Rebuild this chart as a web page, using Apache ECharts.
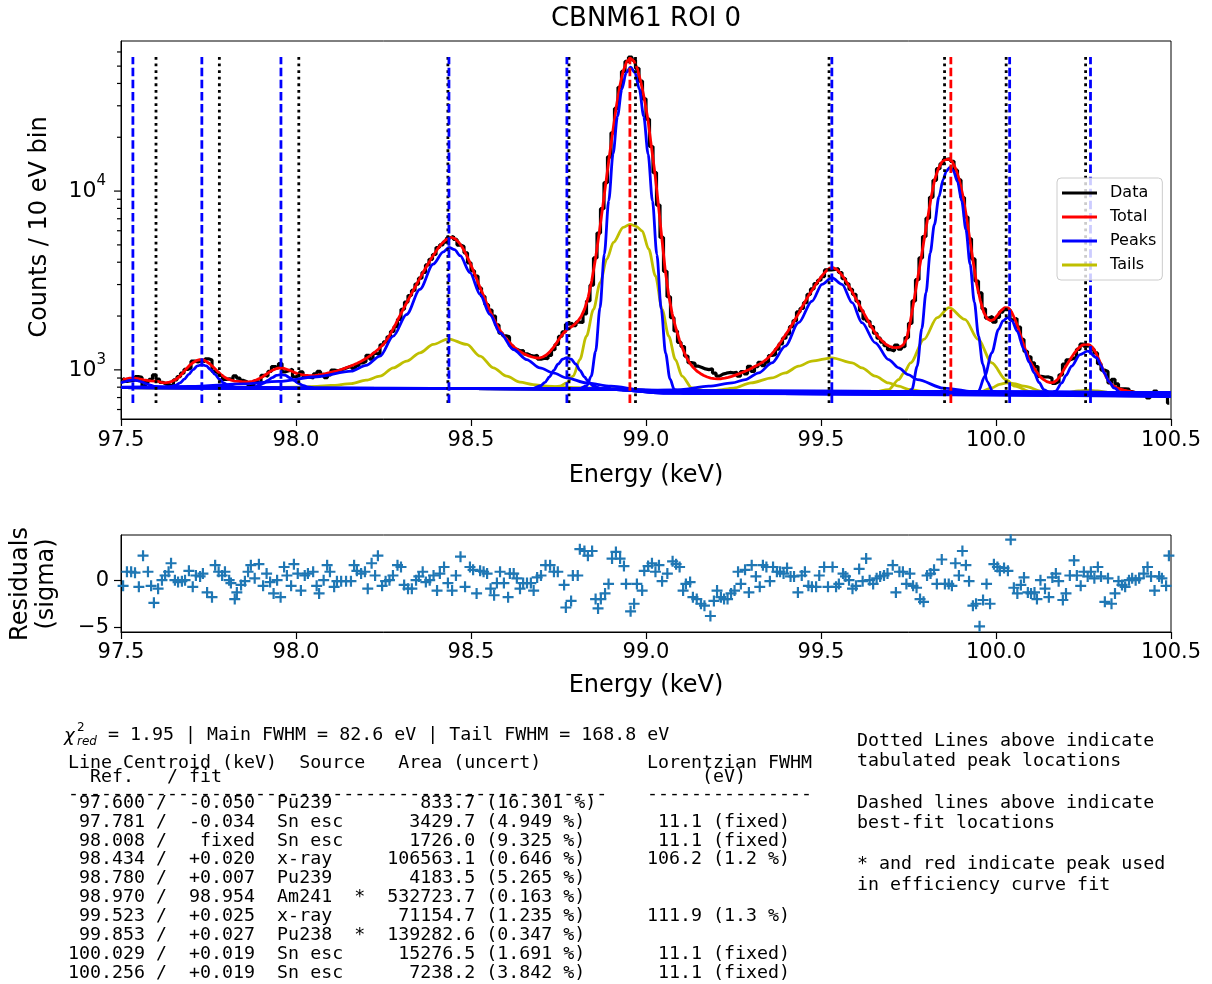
<!DOCTYPE html>
<html>
<head>
<meta charset="utf-8">
<title>CBNM61 ROI 0</title>
<script src="https://cdn.jsdelivr.net/npm/echarts@6/dist/echarts.min.js"></script>
<style>
  html, body { margin: 0; padding: 0; background: #fff; }
  #chart { width: 1212px; height: 984px; }
</style>
</head>
<body>
<div id="chart"></div>
<script>
// ---- energy axis / binning
var eMin = 97.5, eMax = 100.5, eStep = 0.5;
var binLow = 97.505, binWidth = 0.01;

// ---- measured counts per 10 eV bin
var dataCounts = [
  903,863,871,876,916,909,811,861,886,937,
  888,852,831,824,809,880,916,958,1005,1023,
  1118,1108,1126,1114,1153,1134,979,957,930,885,
  890,885,925,900,873,858,830,815,869,842,
  933,923,981,1044,1018,1084,975,989,1007,915,
  928,974,919,909,902,950,980,944,905,936,
  997,988,1001,1016,1033,1050,1015,1057,1092,1112,
  1206,1149,1237,1211,1382,1434,1530,1640,1742,1918,
  2183,2394,2606,2780,3020,3257,3506,3862,4150,4417,
  4836,5000,5178,5472,5582,5363,4990,4899,4517,3971,
  3584,3350,2866,2574,2316,2161,2000,1783,1604,1552,
  1529,1364,1304,1278,1282,1230,1208,1190,1206,1148,
  1163,1154,1203,1297,1386,1539,1630,1799,1822,1769,
  1848,1843,2055,2428,2976,4228,5824,7977,11147,15550,
  21163,28985,38049,46675,53092,56076,54078,48588,41223,32818,
  25260,17759,12698,8352,5507,3558,2564,1959,1649,1426,
  1350,1194,1097,1088,1048,1032,1012,1003,1014,959,
  923,946,958,967,962,969,922,978,950,1046,
  979,1042,1103,1057,1103,1203,1215,1307,1396,1503,
  1587,1743,1883,2109,2206,2376,2641,2837,3038,3172,
  3318,3622,3625,3644,3682,3504,3240,3028,2820,2646,
  2419,2144,1926,1870,1747,1602,1504,1431,1364,1296,
  1277,1377,1307,1347,1515,1820,2429,3195,4228,5569,
  7058,9232,11482,13346,14235,15049,15149,14672,13092,11546,
  9198,7163,5407,4171,3137,2693,2196,1948,1988,1846,
  1967,2104,2169,2173,1903,1935,1737,1479,1269,1184,
  1095,1043,920,912,913,900,841,859,938,1077,
  1136,1153,1176,1302,1392,1356,1370,1307,1243,1083,
  997,979,844,886,834,783,784,781,755,745,
  746,737,719,697,721,760,717,721,739,651
];

// ---- total fit model, same bins
var totalModel = [
  885,890,898,900,895,888,880,873,868,866,
  862,852,846,850,862,880,910,955,1005,1055,
  1095,1125,1140,1138,1110,1075,1030,985,945,912,
  890,876,866,862,858,855,856,862,875,893,
  915,945,975,1000,1018,1026,1020,1005,988,968,
  950,940,934,930,929,932,937,944,954,964,
  975,985,998,1013,1030,1047,1067,1090,1115,1142,
  1175,1212,1255,1305,1360,1430,1530,1660,1810,1980,
  2160,2350,2560,2780,3020,3280,3560,3850,4150,4450,
  4760,5050,5280,5450,5500,5400,5170,4850,4470,4060,
  3650,3270,2920,2620,2350,2120,1930,1770,1640,1540,
  1460,1390,1330,1285,1250,1220,1198,1180,1168,1165,
  1180,1210,1260,1330,1420,1520,1610,1680,1730,1790,
  1870,1990,2200,2560,3150,4100,5600,7800,11000,15500,
  21500,29500,38500,47000,53000,55300,53500,48500,41000,33000,
  25500,18000,12800,8500,5500,3600,2600,2050,1720,1480,
  1310,1180,1090,1030,985,955,930,912,900,893,
  890,892,898,907,920,935,950,966,985,1005,
  1030,1055,1080,1110,1150,1200,1265,1340,1430,1530,
  1640,1760,1900,2050,2230,2420,2610,2800,3000,3200,
  3400,3580,3710,3730,3640,3480,3280,3050,2820,2600,
  2390,2200,2030,1870,1730,1610,1520,1450,1390,1355,
  1335,1330,1340,1380,1500,1850,2400,3150,4100,5400,
  7100,9300,11600,13300,14500,15000,15100,14600,13300,11600,
  9500,7300,5400,4000,3000,2450,2100,1930,1880,1920,
  2030,2150,2230,2220,2100,1900,1680,1460,1280,1140,
  1050,980,920,885,860,848,850,880,935,1010,
  1090,1170,1250,1320,1370,1390,1385,1340,1250,1130,
  1010,910,850,815,795,780,770,762,755,750,
  746,742,738,735,732,730,728,726,723,721
];

// ---- individual peak components (energy, counts)
var peak97534 = [[97.5,845],[97.509,856],[97.5215,870],[97.534,875],[97.5465,870],[97.559,856],[97.5715,838],[97.584,822],[97.5965,809],[97.609,802],[97.634,796],[98.0,791],[98.5,786],[98.9,779],[99.05,762],[100.5,745]];
var peak97731 = [[97.5,795],[97.631,796],[97.656,818],[97.6685,845],[97.681,887],[97.6935,944],[97.706,1004],[97.7185,1052],[97.731,1070],[97.7435,1052],[97.756,1004],[97.7685,944],[97.781,887],[97.7935,845],[97.806,818],[97.831,798],[98.0,791],[98.5,786],[98.9,779],[99.05,762],[100.5,745]];
var peak97957 = [[97.5,795],[97.857,793],[97.882,804],[97.8945,818],[97.907,841],[97.9195,872],[97.932,905],[97.9445,931],[97.957,941],[97.9695,931],[97.982,905],[97.9945,872],[98.007,841],[98.0195,818],[98.032,804],[98.057,792],[98.5,786],[98.9,779],[99.05,762],[100.5,745]];
var peak98437 = [[97.5,800],[97.7,808],[97.85,835],[97.95,862],[98.06,915],[98.158,983],[98.2,1060],[98.24,1194],[98.278,1545],[98.316,2040],[98.354,2820],[98.392,3900],[98.421,4570],[98.437,4840],[98.453,4700],[98.469,4350],[98.497,3500],[98.526,2640],[98.554,2040],[98.583,1610],[98.621,1300],[98.659,1142],[98.697,1026],[98.735,962],[98.773,902],[98.83,845],[98.9,810],[98.99,772],[99.2,762],[99.6,755],[100.5,740]];
var peak98774 = [[97.5,795],[98.5,786],[98.674,785],[98.699,815],[98.7115,852],[98.724,912],[98.7365,993],[98.749,1078],[98.7615,1146],[98.774,1172],[98.7865,1146],[98.799,1078],[98.8115,993],[98.824,912],[98.8365,852],[98.849,815],[98.874,785],[98.95,778],[99.05,762],[100.5,745]];
var peak98954 = [[97.5,795],[98.0,791],[98.5,786],[98.806,778],[98.831,815],[98.8435,923],[98.856,1268],[98.8685,2218],[98.881,4448],[98.8935,8828],[98.906,16158],[98.9185,26188],[98.931,37158],[98.9435,45928],[98.956,49278],[98.9685,45900],[98.981,37130],[98.9935,26160],[99.006,16130],[99.0185,8800],[99.031,4420],[99.0435,2190],[99.056,1240],[99.0685,890],[99.081,775],[99.106,740],[99.5,733],[100.0,722],[100.5,708]];
var peak99531 = [[97.5,795],[98.5,786],[98.9,779],[99.0,765],[99.1,775],[99.179,810],[99.246,845],[99.284,882],[99.322,962],[99.36,1095],[99.398,1358],[99.436,1835],[99.474,2420],[99.503,3010],[99.531,3280],[99.56,3010],[99.589,2375],[99.617,1835],[99.655,1417],[99.693,1142],[99.722,1026],[99.749,941],[99.775,882],[99.85,790],[99.95,750],[100.2,728],[100.5,715]];
var peak99871 = [[97.5,795],[98.5,786],[98.9,779],[99.05,742],[99.5,735],[99.72,731],[99.745,737],[99.76,780],[99.775,1050],[99.788,1700],[99.8,2700],[99.812,4500],[99.824,6500],[99.837,9300],[99.849,11600],[99.858,12900],[99.868,13580],[99.878,13000],[99.89,11300],[99.902,8800],[99.914,6100],[99.926,3900],[99.938,2400],[99.95,1550],[99.962,1080],[99.975,860],[99.99,760],[100.02,728],[100.5,712]];
var peak100039 = [[97.5,795],[98.5,786],[98.9,779],[99.05,742],[99.5,734],[99.93,727],[99.95,760],[99.968,922],[99.988,1246],[100.007,1683],[100.02,1880],[100.033,1960],[100.046,1880],[100.06,1650],[100.08,1300],[100.095,1100],[100.109,962],[100.123,850],[100.137,775],[100.16,732],[100.5,712]];
var peak100270 = [[97.5,795],[98.5,786],[98.9,779],[99.05,742],[99.5,734],[100.0,724],[100.15,720],[100.17,760],[100.188,845],[100.2,930],[100.216,1049],[100.24,1218],[100.262,1273],[100.288,1168],[100.3,1060],[100.309,962],[100.323,860],[100.337,792],[100.36,735],[100.5,712]];

// ---- tail components
var tail98437 = [[97.5,795],[97.9,797],[98.0,800],[98.06,808],[98.1,818],[98.158,838],[98.2,875],[98.24,922],[98.278,1026],[98.316,1119],[98.354,1246],[98.392,1387],[98.435,1492],[98.488,1387],[98.526,1194],[98.564,1026],[98.602,922],[98.64,853],[98.678,827],[98.716,810],[98.8,795],[98.9,785],[99.05,760],[100.5,725]];
var tail98954 = [[97.5,795],[98.5,786],[98.72,784],[98.754,810],[98.773,845],[98.792,922],[98.811,1142],[98.83,1545],[98.85,2180],[98.869,3075],[98.888,4160],[98.907,5160],[98.935,6260],[98.954,6520],[98.972,6350],[98.989,5990],[99.008,4730],[99.027,3350],[99.046,2180],[99.065,1545],[99.084,1142],[99.103,922],[99.131,792],[99.17,765],[99.5,750],[100.5,725]];
var tail99531 = [[97.5,795],[98.5,786],[98.9,779],[99.05,762],[99.2,768],[99.25,790],[99.3,845],[99.36,902],[99.398,962],[99.436,1049],[99.474,1119],[99.531,1168],[99.589,1095],[99.617,1026],[99.655,922],[99.693,845],[99.722,810],[99.75,778],[99.8,752],[100.0,735],[100.5,722]];
var tail99871 = [[97.5,795],[98.5,786],[98.9,779],[99.05,755],[99.6,742],[99.65,750],[99.693,775],[99.722,882],[99.737,962],[99.756,1095],[99.794,1479],[99.832,1960],[99.866,2230],[99.911,1915],[99.949,1479],[99.988,1095],[100.028,882],[100.054,810],[100.1,752],[100.15,738],[100.5,722]];
var tail100039 = [[97.5,795],[98.5,786],[98.9,779],[99.05,750],[99.9,733],[99.95,745],[99.988,792],[100.01,830],[100.03,845],[100.05,838],[100.08,810],[100.137,755],[100.2,737],[100.5,720]];
var tail100270 = [[97.5,795],[98.5,786],[98.9,779],[99.05,750],[100.0,727],[100.15,727],[100.2,745],[100.235,763],[100.262,769],[100.29,763],[100.32,748],[100.38,730],[100.5,718]];

// ---- residuals (model - data) / sigma
var residuals = [
  [97.506,-0.6],[97.517,0.9],[97.529,0.9],[97.540,0.8],[97.551,-0.7],[97.563,2.6],[97.577,0.9],[97.586,-0.6],[97.594,-2.4],[97.606,-0.9],
  [97.617,0.0],[97.626,0.5],[97.636,0.9],[97.643,1.8],[97.654,0.0],[97.663,-0.2],[97.674,-0.1],[97.683,0.0],[97.694,1.0],[97.705,-0.7],
  [97.714,0.5],[97.726,0.4],[97.734,0.7],[97.746,-1.3],[97.760,-1.8],[97.769,1.6],[97.779,0.9],[97.789,0.5],[97.797,0.9],[97.809,0.0],
  [97.814,-0.3],[97.825,-2.0],[97.831,-1.3],[97.843,-0.5],[97.854,-0.1],[97.863,0.9],[97.871,1.6],[97.882,0.2],[97.894,1.7],[97.906,-0.6],
  [97.916,0.7],[97.926,-0.2],[97.936,-1.4],[97.946,0.0],[97.956,-1.8],[97.966,1.4],[97.974,0.5],[97.986,-0.6],[97.994,1.7],[98.005,0.7],
  [98.014,-1.1],[98.025,0.5],[98.034,0.7],[98.049,0.9],[98.059,-0.6],[98.066,-1.4],[98.079,0.0],[98.089,1.6],[98.097,0.9],[98.109,-0.7],
  [98.117,-0.1],[98.129,-0.1],[98.143,-0.1],[98.157,-0.1],[98.166,1.6],[98.174,1.0],[98.186,0.7],[98.197,0.9],[98.205,-0.9],[98.216,1.8],
  [98.226,0.5],[98.234,2.6],[98.246,-0.6],[98.256,-0.1],[98.267,0.0],[98.277,0.5],[98.290,1.6],[98.300,1.4],[98.309,-0.5],[98.320,-0.9],
  [98.331,-0.9],[98.343,0.0],[98.351,0.4],[98.362,0.9],[98.371,-0.2],[98.382,0.0],[98.393,0.5],[98.403,-1.1],[98.411,0.7],[98.423,1.4],
  [98.434,-0.3],[98.446,-1.1],[98.457,0.5],[98.470,2.5],[98.483,-0.7],[98.497,1.4],[98.506,1.1],[98.516,-1.4],[98.526,1.0],[98.536,0.9],
  [98.546,0.7],[98.556,-0.9],[98.566,-1.6],[98.574,-0.3],[98.583,0.9],[98.594,-0.3],[98.606,-1.8],[98.611,0.7],[98.622,0.7],[98.631,0.2],
  [98.640,-0.9],[98.649,-0.3],[98.660,-0.3],[98.671,-0.3],[98.679,-1.1],[98.689,0.3],[98.700,0.5],[98.713,1.6],[98.726,1.6],[98.737,0.9],
  [98.748,0.9],[98.766,-0.5],[98.771,-2.9],[98.786,-2.2],[98.791,0.5],[98.805,0.5],[98.811,3.3],[98.824,3.1],[98.834,2.6],[98.846,3.1],
  [98.856,-2.0],[98.863,-3.0],[98.871,-2.0],[98.883,-1.4],[98.893,-0.4],[98.903,2.3],[98.914,3.0],[98.926,2.3],[98.937,1.5],[98.943,-0.4],
  [98.956,-3.3],[98.966,-2.5],[98.974,-0.4],[98.989,-1.1],[98.995,1.0],[99.006,1.5],[99.017,1.8],[99.027,0.9],[99.037,1.6],[99.046,-0.1],
  [99.061,0.7],[99.076,2.0],[99.086,1.7],[99.096,1.4],[99.106,-1.1],[99.114,-0.4],[99.126,-0.2],[99.134,-1.8],[99.145,-2.0],[99.157,-2.5],
  [99.167,-2.7],[99.184,-3.8],[99.194,-2.2],[99.203,-1.1],[99.214,-1.8],[99.223,-2.0],[99.233,-2.0],[99.243,-1.4],[99.253,-1.1],[99.263,0.9],
  [99.271,-0.4],[99.283,1.1],[99.294,-1.3],[99.302,1.6],[99.314,0.4],[99.325,-0.7],[99.334,1.6],[99.344,1.4],[99.354,-0.1],[99.363,1.4],
  [99.374,0.9],[99.383,0.9],[99.393,0.7],[99.403,1.3],[99.413,0.4],[99.423,0.4],[99.434,-1.3],[99.445,0.5],[99.454,0.9],[99.464,-0.6],
  [99.474,-0.7],[99.486,-0.7],[99.495,0.5],[99.509,1.4],[99.520,-0.7],[99.533,1.4],[99.543,-0.7],[99.551,-0.4],[99.563,0.7],[99.570,0.4],
  [99.580,0.0],[99.590,-0.9],[99.600,-0.6],[99.609,1.2],[99.619,-0.1],[99.629,2.3],[99.639,0.0],[99.649,-0.4],[99.659,0.2],[99.669,0.4],
  [99.680,0.5],[99.690,0.7],[99.705,1.6],[99.714,-1.3],[99.724,0.9],[99.734,0.9],[99.744,-0.4],[99.754,0.7],[99.763,-0.6],[99.773,-0.8],
  [99.783,-2.0],[99.793,-2.3],[99.803,0.5],[99.813,0.7],[99.823,1.1],[99.831,-0.4],[99.845,2.2],[99.854,-0.4],[99.865,-0.4],[99.874,-0.6],
  [99.884,1.8],[99.894,0.5],[99.904,3.1],[99.914,1.6],[99.923,-0.1],[99.934,-2.7],[99.943,-2.5],[99.953,-4.9],[99.963,-2.1],[99.973,-0.4],
  [99.983,-2.5],[99.994,1.7],[100.004,1.4],[100.011,1.0],[100.023,1.3],[100.034,1.0],[100.042,4.3],[100.051,-0.8],[100.061,-1.4],[100.071,-0.5],
  [100.080,0.3],[100.091,-1.3],[100.100,-1.4],[100.110,-1.3],[100.117,-2.0],[100.127,0.0],[100.140,-0.9],[100.151,-1.8],[100.161,0.3],[100.171,0.7],
  [100.179,-0.1],[100.191,-2.1],[100.200,-1.4],[100.211,0.5],[100.223,2.1],[100.231,0.5],[100.242,-0.6],[100.251,0.9],[100.262,0.4],[100.271,0.9],
  [100.281,0.2],[100.291,1.4],[100.300,0.4],[100.311,-2.3],[100.320,0.2],[100.330,-2.5],[100.340,-1.4],[100.350,-0.1],[100.360,-0.5],[100.369,-0.7],
  [100.380,0.0],[100.389,0.2],[100.399,0.0],[100.409,0.2],[100.422,0.7],[100.433,1.4],[100.443,0.4],[100.453,-1.1],[100.466,0.4],[100.474,0.2],
  [100.486,-0.6],[100.494,2.6]
];

// ---- line table
var tabulatedE = [97.600, 97.781, 98.008, 98.434, 98.780, 98.970, 99.523, 99.853, 100.029, 100.256];
var fitE = [97.534, 97.731, 97.957, 98.437, 98.774, 98.954, 99.531, 99.871, 100.039, 100.270];
var fitText = ['-0.050', '-0.034', 'fixed', '+0.020', '+0.007', '98.954', '+0.025', '+0.027', '+0.019', '+0.019'];
var sourceName = ['Pu239', 'Sn esc', 'Sn esc', 'x-ray', 'Pu239', 'Am241', 'x-ray', 'Pu238', 'Sn esc', 'Sn esc'];
var usedForEff = [0, 0, 0, 0, 0, 1, 0, 1, 0, 0];
var peakArea = [833.7, 3429.7, 1726.0, 106563.1, 4183.5, 532723.7, 71154.7, 139282.6, 15276.5, 7238.2];
var areaUncPct = [16.301, 4.949, 9.325, 0.646, 5.265, 0.163, 1.235, 0.347, 1.691, 3.842];
var lorentzFwhm = [null, 11.1, 11.1, 106.2, null, null, 111.9, null, 11.1, 11.1];
var lorentzNote = ['', '(fixed)', '(fixed)', '(1.2 %)', '', '', '(1.3 %)', '', '(fixed)', '(fixed)'];
var chiText = '= 1.95 | Main FWHM = 82.6 eV | Tail FWHM = 168.8 eV';
var notes = ['Dotted Lines above indicate', 'tabulated peak locations', '',
             'Dashed lines above indicate', 'best-fit locations', '',
             '* and red indicate peak used', 'in efficiency curve fit'];

// ---- axis ticks
var logMajor = [1000, 10000];
var logMinor = [600, 700, 800, 900, 2000, 3000, 4000, 5000, 6000, 7000, 8000, 9000, 20000, 30000, 40000, 50000, 60000];
var resTicks = [-5, 0];
var lineRange = [653, 56200];

var myChart = echarts.init(document.getElementById('chart'), null, {width: 1212, height: 984});

var sans = '"DejaVu Sans"';
var mono = '"DejaVu Sans Mono"';
var plusPath = 'path://M-0.2,-1H0.2V-0.2H1V0.2H0.2V1H-0.2V0.2H-1V-0.2H-0.2Z';

function binned(vals) {
    return vals.map(function (v, i) { return [binLow + i * binWidth, v]; });
}

var series = [];
series.push({
    name: 'Data', type: 'line', xAxisIndex: 0, yAxisIndex: 0,
    data: binned(dataCounts), step: 'middle', symbol: 'none', color: '#000000',
    lineStyle: {color: '#000000', width: 3.2}, silent: true
});
series.push({
    name: 'Total', type: 'line', xAxisIndex: 0, yAxisIndex: 0,
    data: binned(totalModel), symbol: 'none', color: '#ff0000',
    lineStyle: {color: '#ff0000', width: 2.8}, silent: true
});
// tails first so the peak curves sit on top along the background
[tail98437, tail98954, tail99531, tail99871, tail100039, tail100270].forEach(function (p) {
    series.push({
        name: 'Tails', type: 'line', xAxisIndex: 0, yAxisIndex: 0, data: p,
        symbol: 'none', smooth: 0.3, smoothMonotone: 'x', color: '#bfbf00',
        lineStyle: {color: '#bfbf00', width: 2.8}, silent: true
    });
});
[peak97534, peak97731, peak97957, peak98437, peak98774, peak98954, peak99531, peak99871, peak100039, peak100270].forEach(function (p) {
    series.push({
        name: 'Peaks', type: 'line', xAxisIndex: 0, yAxisIndex: 0, data: p,
        symbol: 'none', smooth: 0.3, smoothMonotone: 'x', color: '#0000ff',
        lineStyle: {color: '#0000ff', width: 2.8}, silent: true
    });
});
// tabulated (dotted) and fitted (dashed) line positions
tabulatedE.forEach(function (e) {
    series.push({
        name: 'tabulated', type: 'line', xAxisIndex: 0, yAxisIndex: 0, z: 3,
        data: [[e, lineRange[0]], [e, lineRange[1]]], symbol: 'none', silent: true,
        lineStyle: {color: '#000000', width: 2.8, type: [2.8, 3.8]}
    });
});
fitE.forEach(function (e, i) {
    var c = usedForEff[i] ? '#ff0000' : '#0000ff';
    series.push({
        name: 'fit', type: 'line', xAxisIndex: 0, yAxisIndex: 0, z: 3,
        data: [[e, lineRange[0]], [e, lineRange[1]]], symbol: 'none', silent: true,
        lineStyle: {color: c, width: 2.8, type: [8.5, 3.6]}
    });
});
// log axis ticks and labels
series.push({
    type: 'custom', xAxisIndex: 0, yAxisIndex: 0, silent: true, clip: false, z: 5,
    data: logMajor.map(function (v) { return [eMin, v, 1]; })
        .concat(logMinor.map(function (v) { return [eMin, v, 0]; })),
    renderItem: function (params, api) {
        var p = api.coord([api.value(0), api.value(1)]);
        var major = api.value(2) === 1;
        var len = major ? 7 : 4;
        var children = [{
            type: 'line',
            shape: {x1: p[0] - len, y1: p[1], x2: p[0], y2: p[1]},
            style: {stroke: '#000', lineWidth: 1.2}
        }];
        if (major) {
            var ex = Math.round(Math.log(api.value(1)) / Math.LN10);
            children.push({
                type: 'text', x: p[0] - 15, y: p[1] - 3,
                style: {
                    text: '{b|10}{s|' + ex + '}',
                    align: 'right', verticalAlign: 'middle',
                    textAlign: 'right', textVerticalAlign: 'middle',
                    fill: '#000',
                    rich: {
                        b: {fontSize: 22, fontFamily: 'DejaVu Sans', lineHeight: 29, verticalAlign: 'bottom', color: '#000'},
                        s: {fontSize: 15, fontFamily: 'DejaVu Sans', verticalAlign: 'top', color: '#000'}
                    }
                }
            });
        }
        return {type: 'group', children: children};
    }
});
series.push({
    name: 'resid', type: 'scatter', xAxisIndex: 1, yAxisIndex: 1, silent: true,
    data: residuals, symbol: plusPath, symbolSize: 11,
    itemStyle: {color: '#1f77b4', opacity: 1}
});

function xAxisCfg(grid, margin) {
    return {
        gridIndex: grid, type: 'value', min: eMin, max: eMax, interval: eStep,
        axisLine: {onZero: false, lineStyle: {color: '#000', width: 1}},
        axisTick: {length: 7, lineStyle: {color: '#000', width: 1.2}},
        axisLabel: {fontSize: 21, color: '#000', fontFamily: 'DejaVu Sans', margin: margin,
            formatter: function (v) { return v.toFixed(1); }},
        splitLine: {show: false}
    };
}

// text block under the plots
var graphics = [];
function txt(x, y, s, font) {
    return {type: 'text', x: x, y: y, silent: true,
        style: {text: s, font: font, fill: '#000', align: 'left', verticalAlign: 'middle',
                textAlign: 'left', textVerticalAlign: 'middle'}};
}
function ctxt(x, y, s, font, rot) {
    return {type: 'text', x: x, y: y, rotation: rot || 0, silent: true,
        style: {text: s, font: font, fill: '#000', align: 'center', verticalAlign: 'middle',
                textAlign: 'center', textVerticalAlign: 'middle'}};
}
graphics.push(ctxt(646, 19, 'CBNM61 ROI 0', '26px ' + sans));
graphics.push(ctxt(40, 227, 'Counts / 10 eV bin', '24px ' + sans, Math.PI / 2));
graphics.push(ctxt(646, 476, 'Energy (keV)', '24px ' + sans));
graphics.push(ctxt(21, 584, 'Residuals', '24px ' + sans, Math.PI / 2));
graphics.push(ctxt(47, 584, '(sigma)', '24px ' + sans, Math.PI / 2));
graphics.push(ctxt(646, 686, 'Energy (keV)', '24px ' + sans));

var tx = 68, lx = 647, fMono = '18.3px ' + mono;
graphics.push(txt(tx - 4, 736, '\u03c7', 'italic 18px ' + sans));
graphics.push(txt(tx + 9, 728, '2', '12px ' + sans));
graphics.push(txt(tx + 9, 742, 'red', 'italic 12px ' + sans));
graphics.push(txt(tx + 40, 735, chiText, fMono));
graphics.push(txt(tx, 763, 'Line Centroid (keV)  Source   Area (uncert)', fMono));
graphics.push(txt(tx, 777, '  Ref.   / fit', fMono));
graphics.push(txt(tx, 794, '-'.repeat(49), fMono));
// Lorentzian column
graphics.push(txt(lx, 763, 'Lorentzian FWHM', fMono));
graphics.push(txt(lx, 777, '     (eV)', fMono));
graphics.push(txt(lx, 794, '-'.repeat(15), fMono));
tabulatedE.forEach(function (e, i) {
    var y = 803 + i * 18.9;
    var row = e.toFixed(3).padStart(7) + ' /  ' + fitText[i].padStart(6) + '  ' +
        sourceName[i].padEnd(7) + (usedForEff[i] ? '*' : ' ') + '  ' +
        peakArea[i].toFixed(1).padStart(8) + ' (' + areaUncPct[i].toFixed(3) + ' %)';
    graphics.push(txt(tx, y, row, fMono));
    if (lorentzFwhm[i] !== null) {
        graphics.push(txt(lx, y, lorentzFwhm[i].toFixed(1).padStart(5) + ' ' + lorentzNote[i], fMono));
    }
});
notes.forEach(function (s, i) {
    if (s) graphics.push(txt(857, 741 + i * 20.6, s, fMono));
});

var option = {
    animation: false,
    backgroundColor: '#ffffff',
    textStyle: {fontFamily: 'DejaVu Sans'},
    grid: [
        {left: 121, top: 41, width: 1050, height: 378, show: true, borderColor: '#000', borderWidth: 1},
        {left: 121, top: 535, width: 1050, height: 97, show: true, borderColor: '#000', borderWidth: 1}
    ],
    xAxis: [xAxisCfg(0, 11), xAxisCfg(1, 10)],
    yAxis: [
        {
            gridIndex: 0, type: 'log', logBase: 10, min: 531, max: 69100,
            axisLine: {show: true, onZero: false, lineStyle: {color: '#000', width: 1}},
            axisTick: {show: false}, axisLabel: {show: false}, splitLine: {show: false}
        },
        {
            gridIndex: 1, type: 'value', min: -5.5, max: 4.8,
            axisLine: {show: true, onZero: false, lineStyle: {color: '#000', width: 1}},
            axisTick: {show: true, length: 7, customValues: resTicks, lineStyle: {color: '#000', width: 1.2}},
            axisLabel: {show: true, customValues: resTicks, fontSize: 21, color: '#000', margin: 12,
                fontFamily: 'DejaVu Sans',
                formatter: function (v) { return v < 0 ? '\u2212' + Math.abs(v) : String(v); }},
            splitLine: {show: false}
        }
    ],
    legend: {
        orient: 'vertical', left: 1057, top: 178, selectedMode: false,
        icon: 'rect', itemWidth: 35, itemHeight: 3, itemGap: 8,
        padding: [7, 6, 7, 5],
        backgroundColor: 'rgba(255,255,255,0.8)', borderColor: '#cccccc', borderWidth: 1, borderRadius: 4,
        textStyle: {fontSize: 16, color: '#000', fontFamily: 'DejaVu Sans', padding: [0, 0, 0, 8]},
        data: [
            {name: 'Data', itemStyle: {color: '#000000'}},
            {name: 'Total', itemStyle: {color: '#ff0000'}},
            {name: 'Peaks', itemStyle: {color: '#0000ff'}},
            {name: 'Tails', itemStyle: {color: '#bfbf00'}}
        ]
    },
    graphic: graphics,
    series: series
};
myChart.setOption(option);
</script>
</body>
</html>
